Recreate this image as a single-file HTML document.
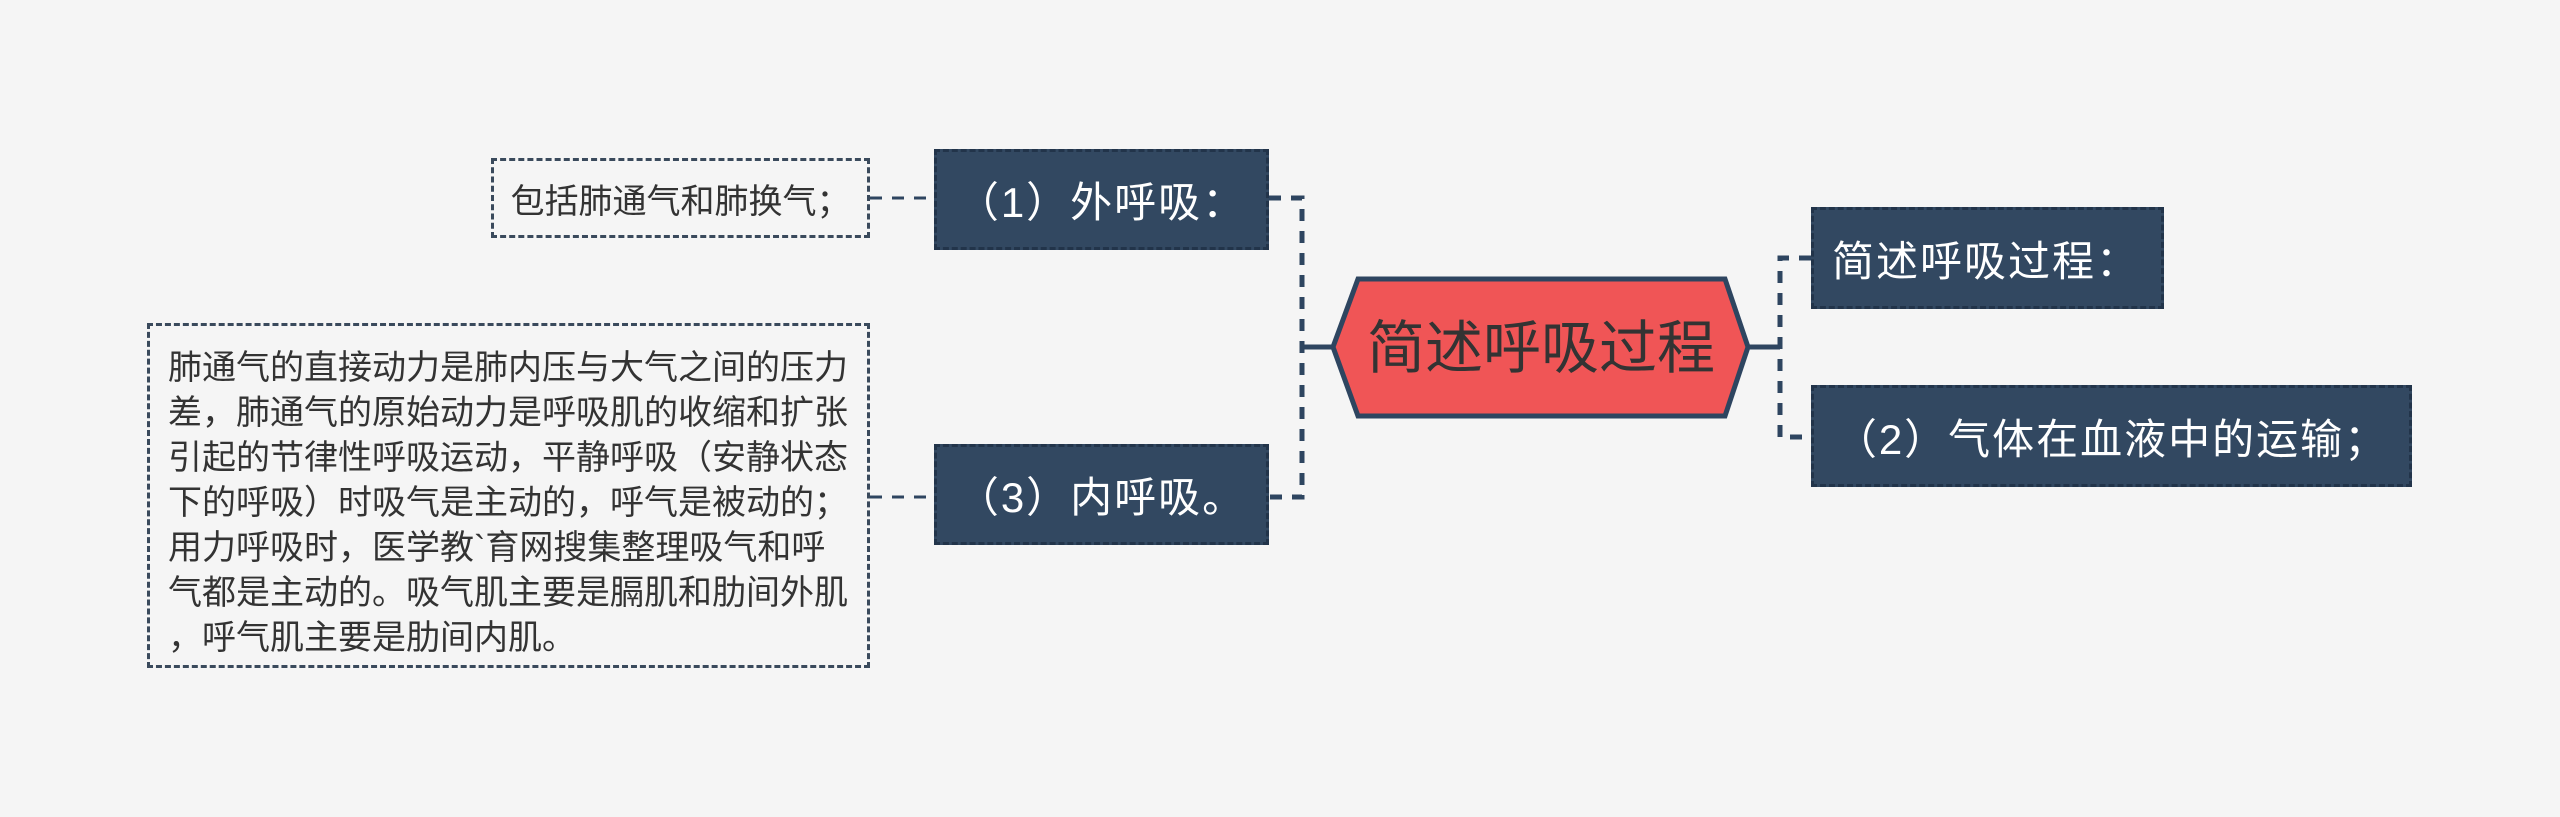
<!DOCTYPE html>
<html><head><meta charset="utf-8"><style>
html,body{margin:0;padding:0;background:#f5f5f5;width:2560px;height:817px;overflow:hidden;font-family:"Liberation Sans","Noto Sans CJK SC",sans-serif;}
.n{position:absolute;box-sizing:border-box;background:#324861;border:3px dashed #22344a;color:#fff;font-size:42px;letter-spacing:2px;display:flex;align-items:center;justify-content:center;white-space:nowrap;}
.t{position:absolute;box-sizing:border-box;border:3px dashed #3a4a5c;color:#333;white-space:nowrap;}
svg{position:absolute;left:0;top:0;}
</style></head><body>
<svg width="2560" height="817">
<polygon points="1333,347 1358,279 1725,279 1748,347 1725,416 1358,416" fill="#f05556" stroke="#2e4560" stroke-width="5"/>
<text x="1541" y="368" text-anchor="middle" font-size="58" fill="#333" font-family="Liberation Sans, Noto Sans CJK SC, sans-serif">简述呼吸过程</text>
<g stroke="#2e4560" stroke-width="5" fill="none">
<line x1="1302" y1="347" x2="1333" y2="347"/>
<line x1="1748" y1="347" x2="1780" y2="347"/>
<path d="M1269,198 H1302 V497 H1269" stroke-dasharray="12,10"/>
<path d="M1811,258 H1780 V437 H1811" stroke-dasharray="12,10"/>
<line x1="870" y1="198" x2="934" y2="198" stroke-dasharray="12,10" stroke-width="3"/>
<line x1="870" y1="497" x2="934" y2="497" stroke-dasharray="12,10" stroke-width="3"/>
</g>
</svg>
<div class="n" style="left:934px;top:149px;width:335px;height:101px;">（1）外呼吸：</div>
<div class="n" style="left:934px;top:444px;width:335px;height:101px;">（3）内呼吸。</div>
<div class="n" style="left:1811px;top:207px;width:353px;height:102px;justify-content:flex-start;padding-left:18px;">简述呼吸过程：</div>
<div class="n" style="left:1811px;top:385px;width:601px;height:102px;">（2）气体在血液中的运输；</div>
<div class="t" style="left:491px;top:158px;width:379px;height:80px;font-size:34px;display:flex;align-items:center;justify-content:center;">包括肺通气和肺换气；</div>
<div class="t" style="left:147px;top:323px;width:723px;height:345px;font-size:34px;line-height:45px;padding:20px 0 0 18px;">肺通气的直接动力是肺内压与大气之间的压力<br>差，肺通气的原始动力是呼吸肌的收缩和扩张<br>引起的节律性呼吸运动，平静呼吸（安静状态<br>下的呼吸）时吸气是主动的，呼气是被动的；<br>用力呼吸时，医学教`育网搜集整理吸气和呼<br>气都是主动的。吸气肌主要是膈肌和肋间外肌<br>，呼气肌主要是肋间内肌。</div>
</body></html>
